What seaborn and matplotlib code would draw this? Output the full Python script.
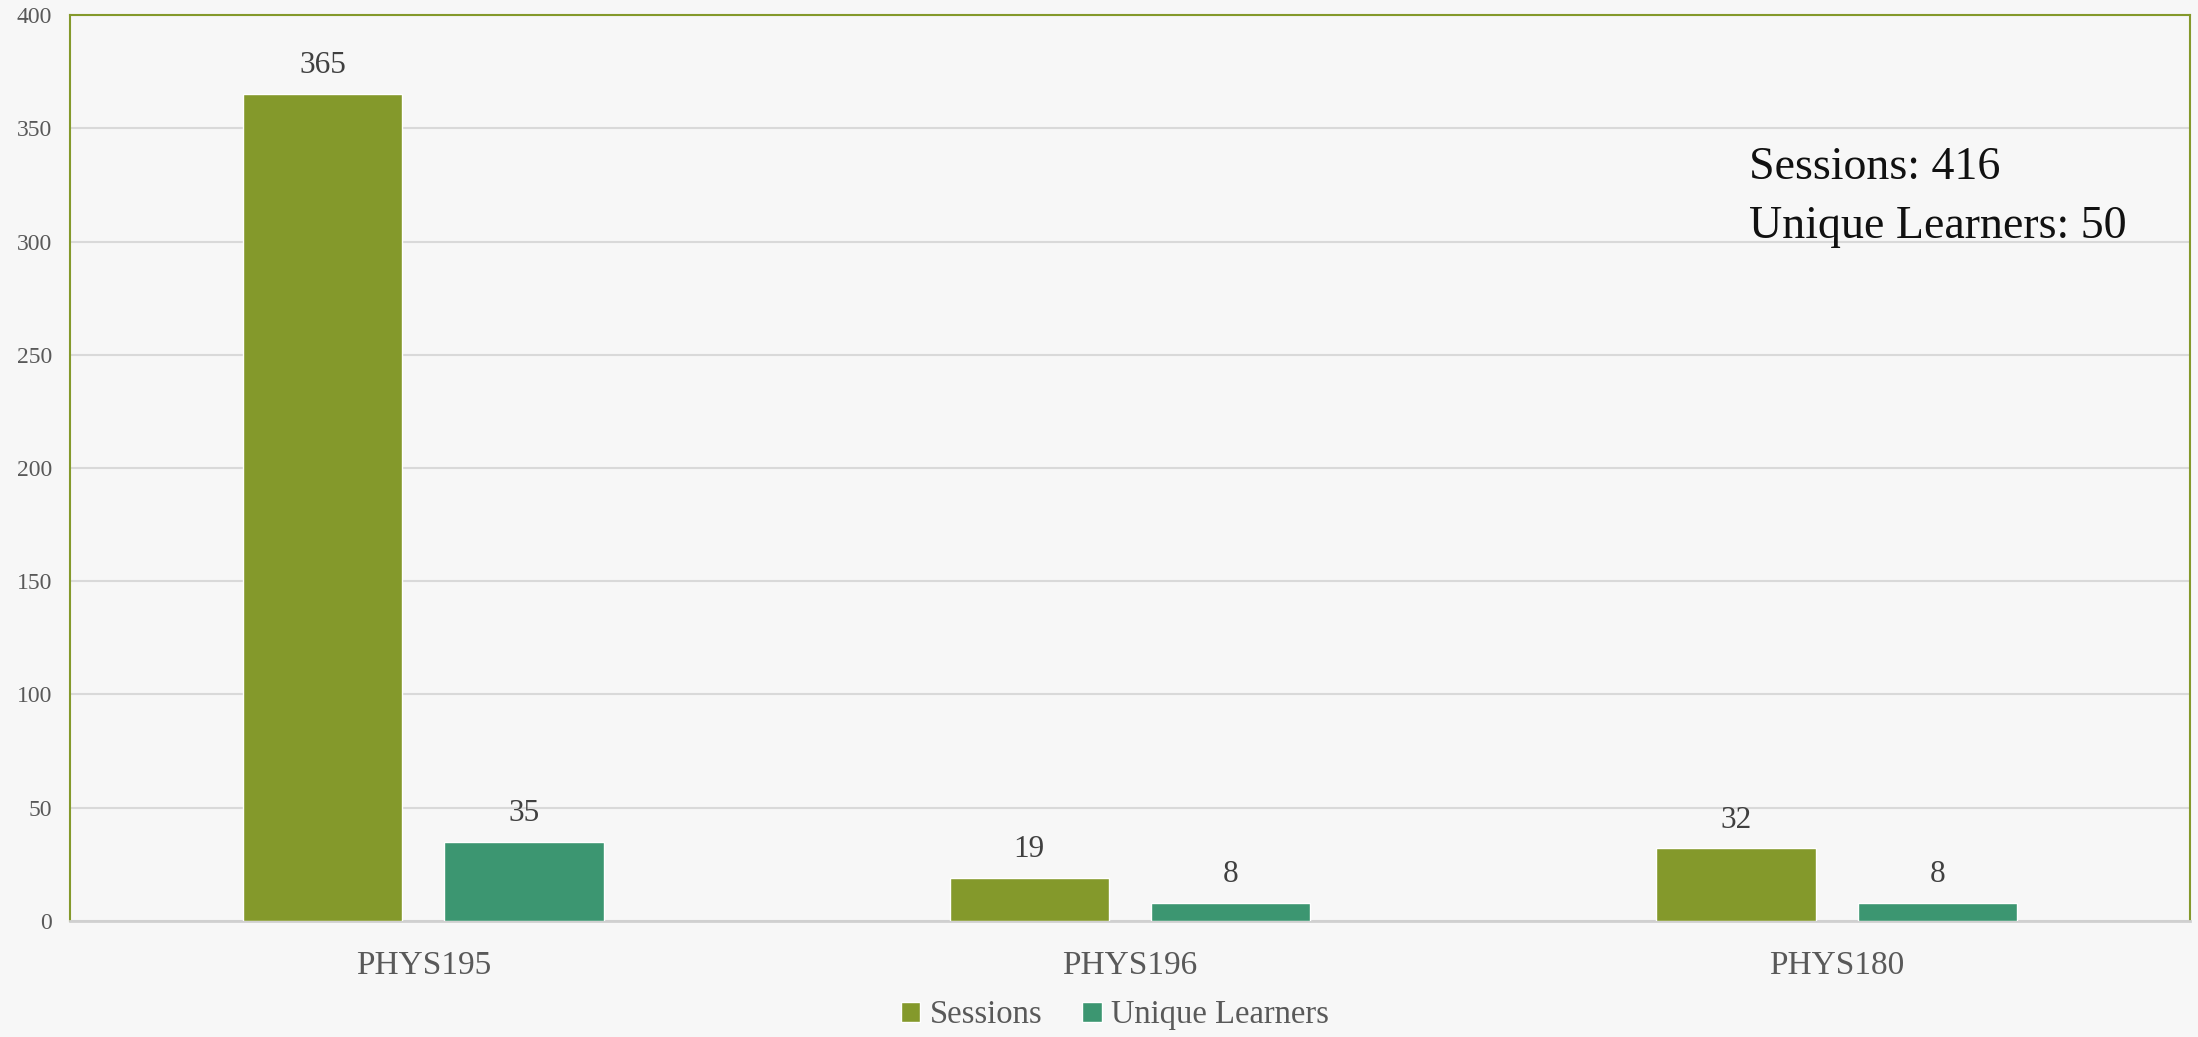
import pandas as pd
import seaborn as sns
from matplotlib import pyplot as plt

courses = ["PHYS195", "PHYS196", "PHYS180"]
sessions = [365, 19, 32]
unique_learners = [35, 8, 8]
series_names = ["Sessions", "Unique Learners"]
colors = ["#84992b", "#3c9671"]
total_sessions = 416
total_learners = 50

df = pd.DataFrame({
    "course": courses * 2,
    "value": sessions + unique_learners,
    "series": [series_names[0]] * len(courses) + [series_names[1]] * len(courses),
})

bg = "#f7f7f7"
sns.set_theme(style="white", rc={"figure.facecolor": bg, "axes.facecolor": bg})
plt.rcParams["font.family"] = ["Liberation Serif", "DejaVu Serif"]

fig, ax = plt.subplots(figsize=(21.98, 10.37), dpi=100)
fig.subplots_adjust(left=0.0318, right=0.9964, bottom=0.1119, top=0.9855)

sns.barplot(data=df, x="course", y="value", hue="series", palette=colors,
            width=0.57, gap=0.21, saturation=1, ax=ax, zorder=3)

ax.set_ylim(0, 400)
ax.set_xlim(-0.5, 2.5)
ax.set_yticks(range(0, 401, 50))
ax.set_xlabel("")
ax.set_ylabel("")
ax.yaxis.grid(True, color="#d9d9d9", linewidth=1.5, zorder=0)
ax.set_axisbelow(True)

for side in ["left", "top", "right"]:
    ax.spines[side].set_color("#84992b")
    ax.spines[side].set_linewidth(1.5)
ax.spines["bottom"].set_color("#d0d0d0")
ax.spines["bottom"].set_linewidth(2)

ax.tick_params(axis="y", labelsize=17, labelcolor="#595959", length=0, pad=13)
ax.tick_params(axis="x", labelsize=24, labelcolor="#595959", length=0, pad=21)

for cont in ax.containers:
    ax.bar_label(cont, padding=10, fontsize=22.5, color="#404040")

# summary box in the upper right
ax.text(0.792, 0.855, f"Sessions: {total_sessions}\nUnique Learners: {total_learners}",
        transform=ax.transAxes, fontsize=33, color="#111111", va="top", ha="left",
        linespacing=1.5)

handles, labels = ax.get_legend_handles_labels()
ax.get_legend().remove()
fig.legend(handles, labels, loc="center", bbox_to_anchor=(1115 / 2198, 0.021),
           ncol=2, frameon=False, fontsize=23.5, labelcolor="#595959",
           handlelength=0.6, handleheight=0.6, handletextpad=0.3, columnspacing=1.2)

fig.savefig("out.png", dpi=100, facecolor=bg)
